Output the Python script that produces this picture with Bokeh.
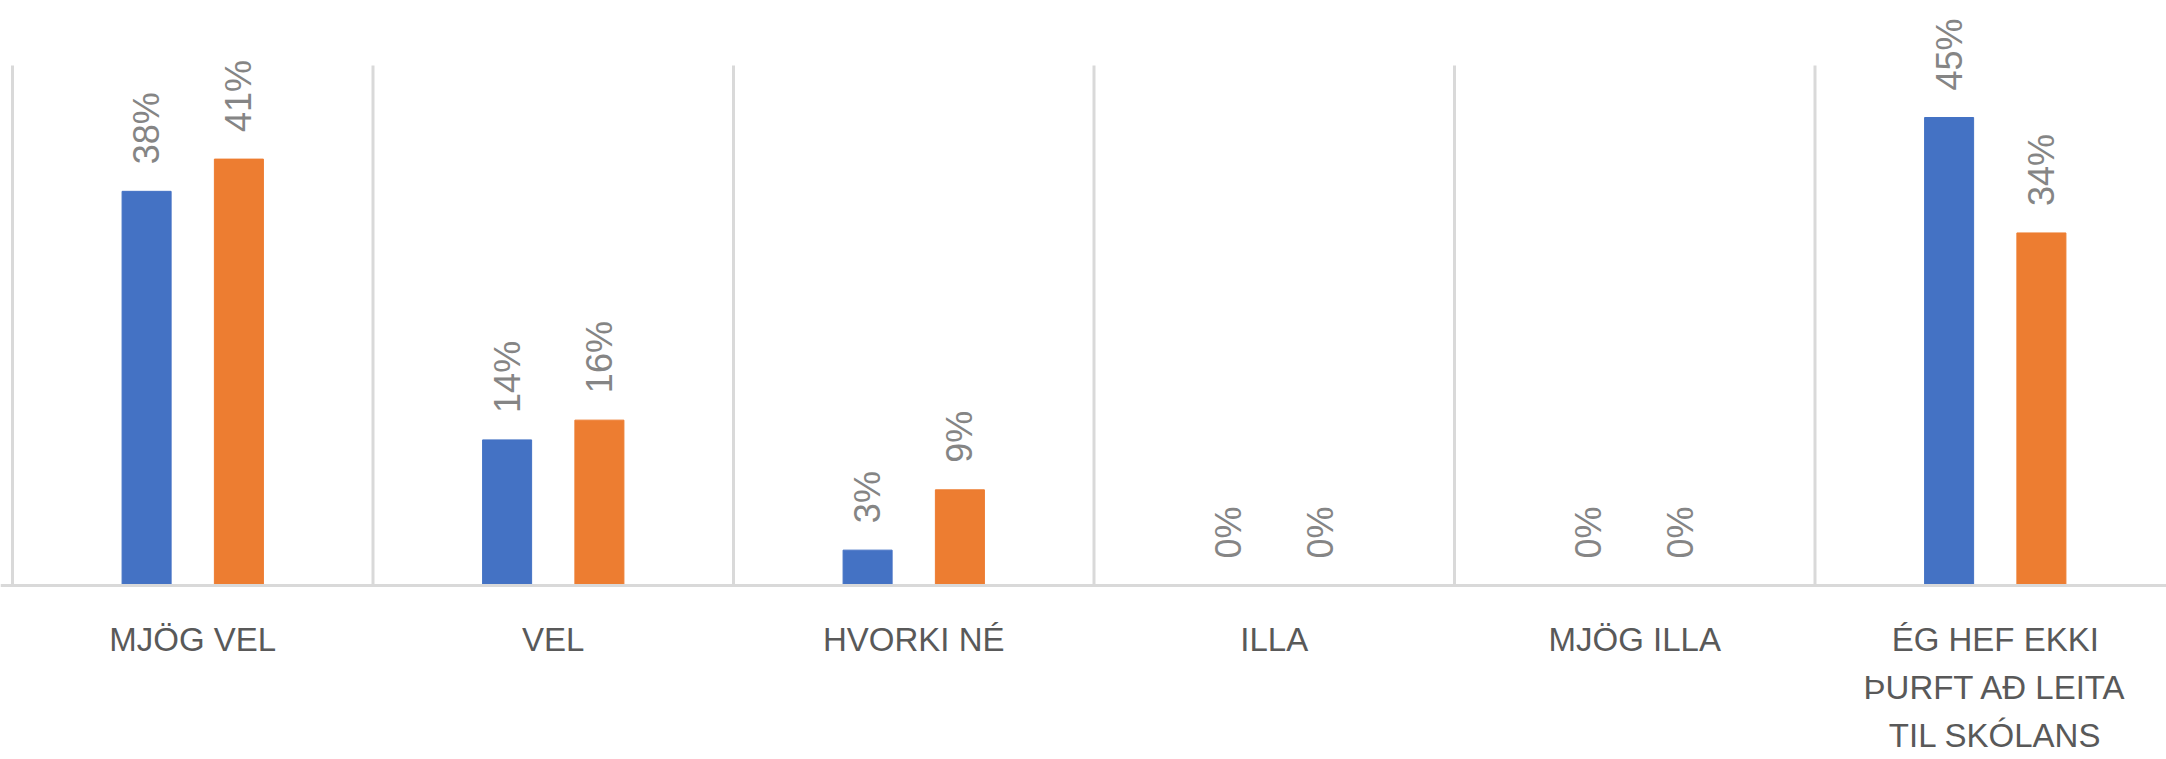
import numpy as np
from bokeh.plotting import figure
from bokeh.models import ColumnDataSource, Range1d, Span
from bokeh.core.properties import value
from bokeh.embed import file_html
from bokeh.resources import INLINE

categories = ["MJÖG VEL", "VEL", "HVORKI NÉ", "ILLA", "MJÖG ILLA",
              "ÉG HEF EKKI\nÞURFT AÐ LEITA\nTIL SKÓLANS"]
series_a = [37.9, 14.0, 3.4, 0.0, 0.0, 45.0]   # blue
series_b = [41.0, 15.9, 9.2, 0.0, 0.0, 33.9]   # orange
labels_a = ["38%", "14%", "3%", "0%", "0%", "45%"]
labels_b = ["41%", "16%", "9%", "0%", "0%", "34%"]
axis_max = 50

BLUE = "#4472C4"
ORANGE = "#ED7D31"
GRID = "#D9D9D9"

W, H = 2166, 759
n = len(categories)
idx = np.arange(n)
offset = 0.128
bar_w = 0.136

px_per_unit = 10.4
above_px = 585                      # frame pixels above the baseline
y_end = above_px / px_per_unit
y_start = -(H - above_px) / px_per_unit
gap = 27 / px_per_unit
label_drop = 35 / px_per_unit

src_a = ColumnDataSource(dict(x=idx + 0.5 - offset, top=series_a,
                              ly=np.array(series_a) + gap, lab=labels_a))
src_b = ColumnDataSource(dict(x=idx + 0.5 + offset, top=series_b,
                              ly=np.array(series_b) + gap, lab=labels_b))
src_c = ColumnDataSource(dict(x=idx + 0.5, y=np.full(n, -label_drop),
                              lab=categories))

cat_px = 360.5
x_start = -12 / cat_px
x_end = x_start + W / cat_px

p = figure(width=W, height=H, output_backend="svg", toolbar_location=None,
           x_range=Range1d(x_start, x_end), y_range=Range1d(y_start, y_end),
           min_border=0)
p.outline_line_color = None
p.xgrid.visible = False
p.ygrid.visible = False
p.xaxis.visible = False
p.yaxis.visible = False

# category separators
p.segment(x0=idx, y0=0, x1=idx, y1=axis_max, line_color=GRID, line_width=3)
# baseline
p.add_layout(Span(location=0, dimension="width", line_color=GRID, line_width=3))

p.vbar(x="x", top="top", width=bar_w, source=src_a, color=BLUE)
p.vbar(x="x", top="top", width=bar_w, source=src_b, color=ORANGE)

for s in (src_a, src_b):
    p.text(x="x", y="ly", text="lab", source=s, angle=np.pi / 2,
           text_align="left", text_baseline="middle",
           text_font=value("Liberation Sans"), text_font_size="36px",
           text_color="#858585")

p.text(x="x", y="y", text="lab", source=src_c,
       text_align="center", text_baseline="top",
       text_font=value("Liberation Sans"), text_font_size="33px",
       text_color="#595959", text_line_height=1.3)

open("out.html", "w").write(file_html(p, INLINE))
